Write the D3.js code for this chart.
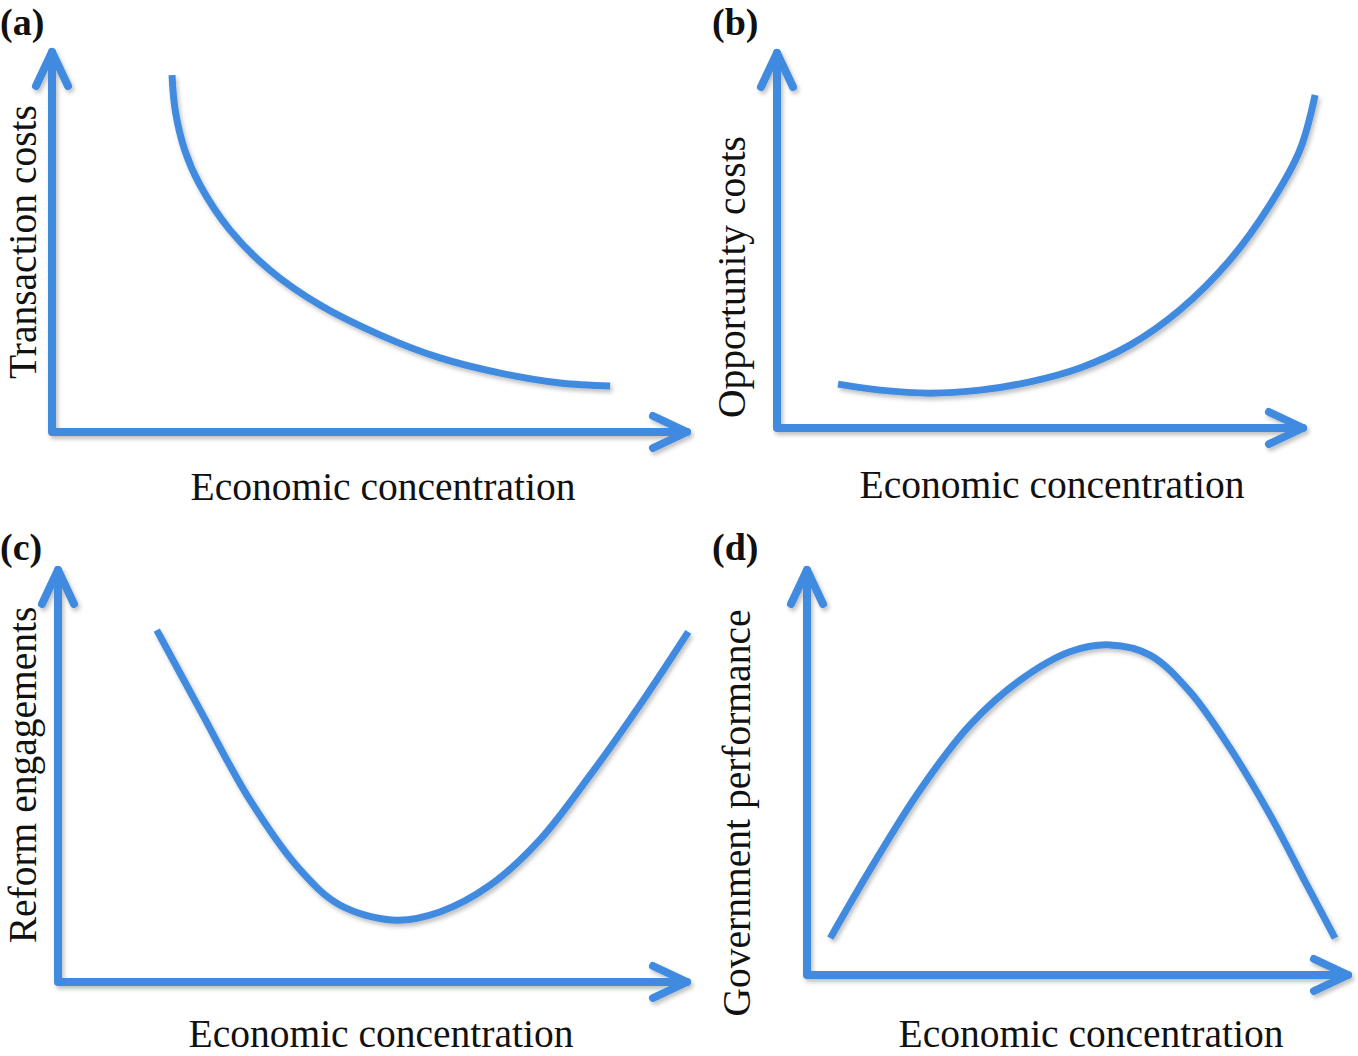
<!DOCTYPE html>
<html><head><meta charset="utf-8">
<script src="https://cdn.jsdelivr.net/npm/d3@7"></script>
<style>body{margin:0;background:#fff}text{font-family:"Liberation Serif","Times New Roman",serif;fill:#111}</style>
</head><body>
<svg id="c" width="1358" height="1056"></svg>
<script>
const panelLabels = ["(a)", "(b)", "(c)", "(d)"];
const xTitles = ["Economic concentration", "Economic concentration", "Economic concentration", "Economic concentration"];
const yTitles = ["Transaction costs", "Opportunity costs", "Reform engagements", "Government performance"];

const curveA_x = [1.89, 1.94, 2.09, 2.33, 2.80, 3.43, 4.22, 5.17, 6.11, 7.06, 8.00, 8.79];
const curveA_y = [9.39, 8.47, 7.42, 6.50, 5.32, 4.26, 3.34, 2.55, 1.95, 1.55, 1.29, 1.21];
const curveB_x = [1.16, 1.96, 2.91, 3.86, 4.81, 5.76, 6.71, 7.66, 8.61, 9.37, 9.94, 10.23];
const curveB_y = [1.17, 1.01, 0.93, 1.01, 1.23, 1.60, 2.21, 3.15, 4.48, 5.95, 7.41, 8.88];
const curveC_x = [1.57, 2.26, 3.05, 3.85, 4.48, 5.36, 6.07, 6.87, 7.66, 8.46, 9.25, 10.02];
const curveC_y = [8.54, 6.60, 4.42, 2.72, 1.87, 1.50, 1.70, 2.35, 3.45, 5.02, 6.72, 8.50];
const curveD_x = [0.43, 1.16, 2.09, 3.01, 3.94, 4.86, 5.60, 6.34, 7.08, 7.82, 8.56, 9.17, 9.76];
const curveD_y = [0.91, 2.59, 4.57, 6.17, 7.28, 7.98, 8.15, 7.90, 6.99, 5.60, 3.95, 2.40, 0.91];

const curvesX = [curveA_x, curveB_x, curveC_x, curveD_x];
const curvesY = [curveA_y, curveB_y, curveC_y, curveD_y];

// layout (pixels)
const layout = [
  {x0: 52, x1: 687, y0: 432, y1: 52, lab: [0, 35], xt: [383, 500], yt: [36, 242]},
  {x0: 777, x1: 1303, y0: 428, y1: 53, lab: [712, 35], xt: [1052, 498], yt: [745, 277]},
  {x0: 58, x1: 687, y0: 982, y1: 570, lab: [0, 560], xt: [381, 1047], yt: [36, 775]},
  {x0: 807, x1: 1348, y0: 975, y1: 570, lab: [712, 560], xt: [1091, 1047], yt: [750, 813]}
];

const blue = "#418be0";
const svg = d3.select("#c");
const defs = svg.append("defs");
const f = defs.append("filter").attr("id", "sh").attr("x", "-20%").attr("y", "-20%").attr("width", "140%").attr("height", "140%");
f.append("feDropShadow").attr("dx", 2).attr("dy", 3).attr("stdDeviation", 2).attr("flood-color", "#000").attr("flood-opacity", 0.25);

layout.forEach((L, i) => {
  const x = d3.scaleLinear().domain([0, 10]).range([L.x0, L.x1]);
  const y = d3.scaleLinear().domain([0, 10]).range([L.y0, L.y1]);
  const g = svg.append("g");
  const ax = g.append("g").attr("filter", "url(#sh)")
    .attr("fill", "none").attr("stroke", blue).attr("stroke-width", 8)
    .attr("stroke-linecap", "round").attr("stroke-linejoin", "round");
  // axes
  ax.append("path").attr("d", `M${x(0)},${y(10)}L${x(0)},${y(0)}L${x(10)},${y(0)}`);
  // arrowheads
  const ah = 34, aw = 16;
  ax.append("path").attr("d", `M${x(0)-aw},${y(10)+ah}L${x(0)},${y(10)}L${x(0)+aw},${y(10)+ah}`);
  ax.append("path").attr("d", `M${x(10)-ah},${y(0)-aw}L${x(10)},${y(0)}L${x(10)-ah},${y(0)+aw}`);
  // curve
  const pts = curvesX[i].map((v, k) => [v, curvesY[i][k]]);
  const line = d3.line().x(d => x(d[0])).y(d => y(d[1])).curve(d3.curveCatmullRom.alpha(0.5));
  g.append("path").datum(pts).attr("d", line).attr("filter", "url(#sh)")
    .attr("fill", "none").attr("stroke", blue).attr("stroke-width", 7).attr("stroke-linecap", "butt");
  // texts
  g.append("text").attr("x", L.lab[0]).attr("y", L.lab[1]).attr("font-size", 38).attr("font-weight", "bold").text(panelLabels[i]);
  g.append("text").attr("x", L.xt[0]).attr("y", L.xt[1]).attr("text-anchor", "middle").attr("font-size", 39.5).text(xTitles[i]);
  g.append("text").attr("transform", `translate(${L.yt[0]},${L.yt[1]}) rotate(-90)`).attr("text-anchor", "middle").attr("font-size", 39.5).text(yTitles[i]);
});
</script>
</body></html>
